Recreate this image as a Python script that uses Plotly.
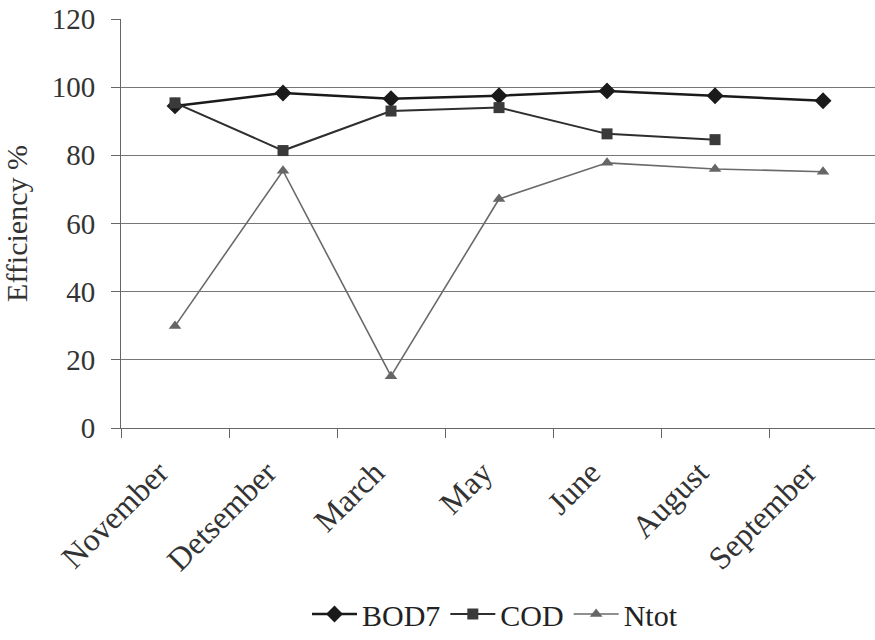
import plotly.graph_objects as go

months = ["November", "Detsember", "March", "May", "June", "August", "September"]
bod7 = [94.5, 98.3, 96.6, 97.5, 98.9, 97.5, 96.0]
cod = [95.4, 81.4, 93.0, 94.0, 86.3, 84.6, None]
ntot = [29.9, 75.5, 15.2, 67.2, 77.8, 76.0, 75.2]

FONT = "Liberation Serif"

fig = go.Figure()
fig.add_trace(go.Scatter(x=months, y=bod7, name="BOD7", mode="lines+markers",
                         line=dict(color="#1a1a1a", width=2.5),
                         marker=dict(symbol="diamond", size=13, color="#1a1a1a")))
fig.add_trace(go.Scatter(x=months, y=cod, name="COD", mode="lines+markers",
                         line=dict(color="#2e2e2e", width=2),
                         marker=dict(symbol="square", size=11, color="#3a3a3a")))
fig.add_trace(go.Scatter(x=months, y=ntot, name="Ntot", mode="lines+markers",
                         line=dict(color="#6a6a6a", width=1.6),
                         marker=dict(symbol="triangle-up", size=11, color="#666666")))

fig.update_layout(
    width=875, height=640,
    margin=dict(l=121, r=0, t=19, b=212),
    paper_bgcolor="white", plot_bgcolor="white",
    font=dict(family=FONT, size=28, color="#333333"),
    showlegend=True,
    legend=dict(orientation="h", x=0.496, xanchor="center",
                yref="container", y=-0.018, yanchor="bottom",
                font=dict(family=FONT, size=30, color="#222222"), itemwidth=45, tracegroupgap=0),
)
fig.update_xaxes(
    type="category", range=[-0.5, 6.481], tickangle=-45, automargin=False,
    showline=True, linecolor="#666666", linewidth=1,
    ticks="outside", ticklen=9, tickcolor="#666666", tickson="boundaries",
    ticklabelstandoff=12, ticklabelshift=-16,
    showgrid=False, tickfont=dict(family=FONT, size=32, color="#333333"),
)
fig.update_yaxes(
    range=[0, 120], dtick=20, tick0=0, automargin=False,
    showline=True, linecolor="#666666", linewidth=1,
    ticks="outside", ticklen=9, tickcolor="#666666",
    ticklabelstandoff=10,
    showgrid=True, gridcolor="#777777", gridwidth=1, zeroline=False,
    title=dict(text="Efficiency %", font=dict(family=FONT, size=30, color="#333333"), standoff=22),
    tickfont=dict(family=FONT, size=29, color="#333333"),
)

fig.write_html("out.html")
